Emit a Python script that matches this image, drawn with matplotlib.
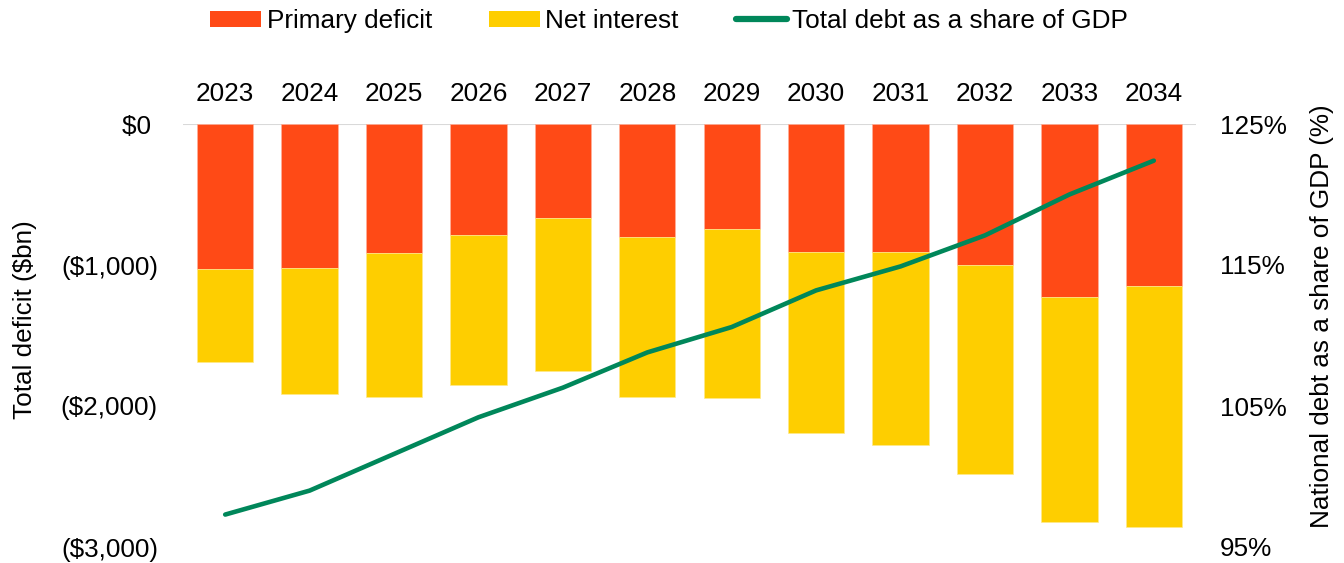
import matplotlib
matplotlib.use("Agg")
import matplotlib.pyplot as plt
from matplotlib.patches import Patch
from matplotlib.lines import Line2D
from matplotlib.ticker import FuncFormatter, FixedLocator

plt.rcParams["font.family"] = ["Liberation Sans", "DejaVu Sans"]

years = ["2023", "2024", "2025", "2026", "2027", "2028",
         "2029", "2030", "2031", "2032", "2033", "2034"]
primary_deficit = [1028, 1021, 915, 787, 667, 801, 743, 908, 908, 1000, 1225, 1147]
net_interest = [662, 892, 1019, 1062, 1085, 1137, 1202, 1281, 1371, 1484, 1596, 1709]
debt_to_gdp = [97.3, 99.0, 101.6, 104.2, 106.3, 108.8, 110.6, 113.2, 114.9, 117.1, 120.0, 122.4]

deficit_ticks = [0, -1000, -2000, -3000]
gdp_ticks = [125, 115, 105, 95]

RED = "#FF4A16"
YELLOW = "#FECE00"
GREEN = "#00875A"
FS = 18.8

W, H = 1344, 563
fig = plt.figure(figsize=(W / 100, H / 100), dpi=100)
ax = fig.add_axes([183 / W, 1 - 547 / H, (1196 - 183) / W, (547 - 124) / H])

x = list(range(len(years)))
neg_primary = [-v for v in primary_deficit]
neg_interest = [-v for v in net_interest]

ax.axhline(0, color="#D9D9D9", lw=1.5, zorder=1)
ax.bar(x, neg_primary, width=0.667, color=RED, edgecolor="#FFB09A", linewidth=0.5, zorder=2)
ax.bar(x, neg_interest, bottom=neg_primary, width=0.667, color=YELLOW,
       edgecolor="#FFE98A", linewidth=0.5, zorder=2)

ax.set_xlim(-0.5, len(years) - 0.5)
ax.set_ylim(-3000, 0)
ax.xaxis.tick_top()
ax.set_xticks(x)
ax.set_xticklabels(years, fontsize=FS)
ax.tick_params(axis="x", length=0, pad=13)
ax.yaxis.set_major_locator(FixedLocator(deficit_ticks))


def money(v, _):
    # accounting style: positives keep room for the closing parenthesis
    if v == 0:
        return "$0 "
    return "(${:,.0f})".format(abs(v))


ax.yaxis.set_major_formatter(FuncFormatter(money))
ax.tick_params(axis="y", length=0, pad=18, labelsize=FS)
for s in ax.spines.values():
    s.set_visible(False)
ax.set_ylabel("Total deficit ($bn)", fontsize=FS, labelpad=17)
ax.yaxis.label.set_y(0.538)

ax2 = ax.twinx()
ax2.plot(x, debt_to_gdp, color=GREEN, lw=3.3, solid_capstyle="round", zorder=3)
ax2.set_ylim(95, 125)
ax2.yaxis.set_major_locator(FixedLocator(gdp_ticks))
ax2.yaxis.set_major_formatter(FuncFormatter(lambda v, _: f"{v:.0f}%"))
ax2.tick_params(axis="y", length=0, pad=17, labelsize=FS)
for s in ax2.spines.values():
    s.set_visible(False)
ax2.set_ylabel("National debt as a share of GDP (%)", fontsize=FS, labelpad=17)
ax2.yaxis.label.set_y(0.545)

handles = [
    Patch(facecolor=RED, label="Primary deficit"),
    Patch(facecolor=YELLOW, label="Net interest"),
    Line2D([0], [0], color=GREEN, lw=4.5, solid_capstyle="round",
           label="Total debt as a share of GDP"),
]
fig.legend(handles=handles, loc="center", bbox_to_anchor=(0.498, 1 - 21 / H), ncol=3,
           frameon=False, fontsize=FS, handlelength=1.95, handletextpad=0.2,
           columnspacing=2.2, handleheight=0.6)

fig.savefig("out.png", dpi=100)
